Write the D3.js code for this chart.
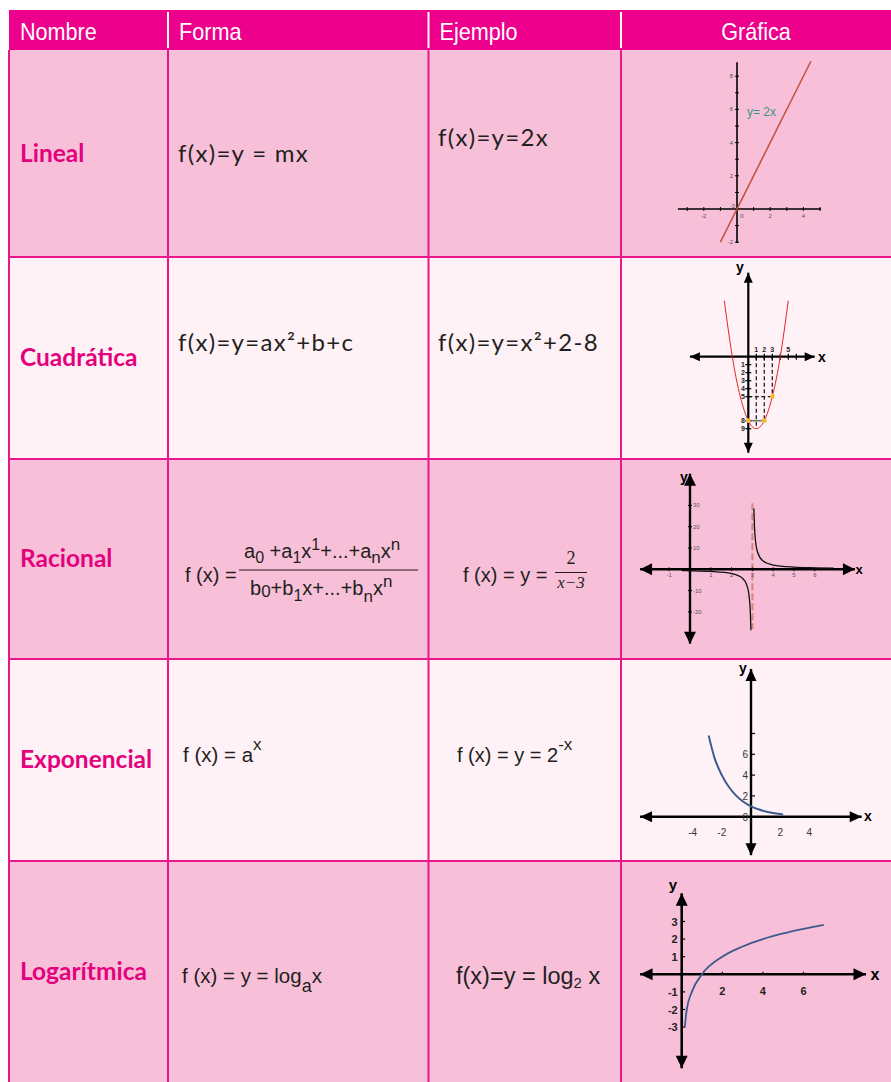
<!DOCTYPE html>
<html>
<head>
<meta charset="utf-8">
<script src="https://cdn.jsdelivr.net/npm/d3@7"></script>
<style>
  body { margin: 0; background: #fff; }
  svg { display: block; }
</style>
</head>
<body>
<div id="chart"></div>
<script>
// table text
var headers = ["Nombre", "Forma", "Ejemplo", "Gráfica"];
var rowNames = ["Lineal", "Cuadrática", "Racional", "Exponencial", "Logarítmica"];
var formaPlain = ["f(x)=y = mx", "f(x)=y=ax²+b+c"];
var ejemploPlain = ["f(x)=y=2x", "f(x)=y=x²+2-8"];

// rich formulas: [text, baseline shift, font size]
var racNum = [["a",0],["0",5,16],[" +a",0],["1",5,16],["x",0],["1",-8,16],["+...+a",0],["n",5,17],["x",0],["n",-8,17]];
var racDen = [["b",0],["0",2,17],["+b",0],["1",6,16],["x+...+b",0],["n",7,17],["x",0],["n",-8,17]];
var expForma = [["f (x) = a",0],["x",-12,17]];
var expEjemplo = [["f (x) = y = 2",0],["-x",-12,17]];
var logForma = [["f (x) = y = log",0],["a",9,18],["x",0]];
var logEjemplo = [["f(x)=y = log",0],["2",4,15],[" x",0]];

// Lineal: y = 2x
var linX = [-1, 4.45];
var linY = [-2, 8.9];
var linXTicks = [-3, -2, -1, 1, 2, 3, 4, 5];
var linXLabels = [-2, 2, 4];
var linYTicks = [-2, -1, 1, 2, 3, 4, 5, 6, 7, 8];
var linYLabels = [-2, 2, 4, 6, 8];

// Cuadrática
var cuaX = [-3, -2, -1, 0, 1, 2, 3, 4, 5];
var cuaY = [7, 0, -5, -8, -9, -8, -5, 0, 7];
var cuaXTicks = [1, 2, 3, 4, 5, 6];
var cuaXLabels = [1, 2, 3, 5];
var cuaYTicks = [-1, -2, -3, -4, -5, -8, -9];
var cuaDropX = [1, 2, 3];
var cuaDropY = [-9, -8, -5];
var cuaDots = [[0, -8], [2, -8], [3, -5]];

// Racional: 2/(x-3)
var racLeftX = [-0.4, 0, 1, 2, 2.5, 2.75, 2.85, 2.9, 2.93];
var racLeftY = [-0.59, -0.67, -1, -2, -4, -8, -13.3, -20, -28.6];
var racRightX = [3.07, 3.1, 3.15, 3.25, 3.5, 4, 5, 6, 6.9];
var racRightY = [28.6, 20, 13.3, 8, 4, 2, 1, 0.67, 0.51];
var racXTicks = [-1, 1, 2, 3, 4, 5, 6];
var racYTicks = [30, 20, 10, -10, -20];
var racAsym = [3, 31, -28];

// Exponencial: 2^-x
var expX = [-2.9, -2.5, -2, -1.5, -1, -0.5, 0, 0.5, 1, 1.5, 2, 2.2];
var expY = [7.8, 5.66, 4, 2.83, 2, 1.41, 1, 0.71, 0.5, 0.35, 0.25, 0.22];
var expXLabels = [-4, -2, 2, 4];
var expYTicks = [2, 4, 6, 8];
var expYLabels = [0, 2, 4, 6];

// Logarítmica: log2 x
var logX = [0.15, 0.25, 0.5, 1, 2, 3, 4, 5, 6, 7];
var logY = [-3, -2, -1, 0, 1, 1.58, 2, 2.32, 2.58, 2.81];
var logXLabels = [2, 4, 6];
var logYTicks = [3, 2, 1, -1, -2, -3];

// layout
var W = 891, H = 1082;
var colX = [9, 168, 428.5, 621, W];
var rowY = [50, 257, 459, 659, 861, H];
var pink = "#f8c0d8", light = "#fef2f6", magenta = "#ec008c", line = "#ec168c";
var ink = "#231f20";

var svg = d3.select("#chart")
  .append("svg")
    .attr("width", W)
    .attr("height", H);

// row backgrounds
svg.append("g")
  .selectAll("rect")
  .data(rowNames)
  .enter()
  .append("rect")
    .attr("x", colX[0])
    .attr("y", function(d, i) { return rowY[i]; })
    .attr("width", W - colX[0])
    .attr("height", function(d, i) { return rowY[i + 1] - rowY[i]; })
    .style("fill", function(d, i) { return i % 2 ? light : pink; });

// header band
svg.append("rect")
  .attr("x", colX[0]).attr("y", 10)
  .attr("width", W - colX[0]).attr("height", 40)
  .style("fill", magenta);

// grid
var grid = svg.append("g").style("stroke", line).style("stroke-width", 2);
grid.selectAll(".v")
  .data(colX.slice(0, 4))
  .enter().append("line")
    .attr("x1", function(d) { return d; }).attr("x2", function(d) { return d; })
    .attr("y1", 50).attr("y2", H);
grid.selectAll(".h")
  .data(rowY.slice(1, 5))
  .enter().append("line")
    .attr("x1", colX[0]).attr("x2", W)
    .attr("y1", function(d) { return d; }).attr("y2", function(d) { return d; });

svg.append("g").selectAll("line")
  .data(colX.slice(1, 4))
  .enter().append("line")
    .attr("x1", function(d) { return d; }).attr("x2", function(d) { return d; })
    .attr("y1", 12).attr("y2", 48)
    .style("stroke", "#fff").style("stroke-width", 2);

// header text (condensed by a horizontal squeeze)
var squeeze = 0.9;
svg.append("g").selectAll("g")
  .data(headers)
  .enter().append("g")
    .attr("transform", function(d, i) {
      var x = i == 3 ? (colX[3] + W) / 2 : colX[i] + 11;
      return "translate(" + x + ",40) scale(" + squeeze + ",1)";
    })
  .append("text")
    .attr("text-anchor", function(d, i) { return i == 3 ? "middle" : "start"; })
    .style("font-family", "'Liberation Sans', Arial, sans-serif")
    .style("font-size", "24px")
    .style("fill", "#fff")
    .text(function(d) { return d; });

// row names
svg.append("g").selectAll("text")
  .data(rowNames)
  .enter().append("text")
    .attr("x", 20)
    .attr("y", function(d, i) { return (rowY[i] + rowY[i + 1]) / 2 + 8; })
    .style("font-family", "Lato, 'Open Sans', sans-serif")
    .style("font-weight", "bold")
    .style("font-size", "24.5px")
    .style("fill", "#e5007d")
    .text(function(d) { return d; });

// plain formulas, rows 1 and 2
function plain(x, y, t) {
  svg.append("text")
    .attr("x", x).attr("y", y)
    .style("font-family", "Lato, 'Open Sans', sans-serif")
    .style("font-size", "24px")
    .style("letter-spacing", "1.3px")
    .style("fill", ink)
    .text(t);
}
plain(178, 162, formaPlain[0]);
plain(178, 351, formaPlain[1]);
plain(438, 146, ejemploPlain[0]);
plain(438, 351, ejemploPlain[1]);

// rich formulas
function rich(x, y, parts, base) {
  var t = svg.append("text")
    .attr("x", x).attr("y", y)
    .style("font-family", "'Liberation Sans', Arial, sans-serif")
    .style("font-size", base + "px")
    .style("fill", ink);
  var prev = 0;
  parts.forEach(function(p) {
    t.append("tspan")
      .attr("dy", p[1] - prev)
      .style("font-size", (p[2] || base) + "px")
      .text(p[0]);
    prev = p[1];
  });
  return t;
}

rich(185, 582, [["f (x) =", 0]], 20);
rich(244, 558, racNum, 20);
rich(250, 595, racDen, 20);
svg.append("line").attr("x1", 239).attr("x2", 418).attr("y1", 570).attr("y2", 570)
  .style("stroke", ink).style("stroke-width", 1.2);

rich(463, 582, [["f (x) = y =", 0]], 20);
svg.append("text").attr("x", 571).attr("y", 564).attr("text-anchor", "middle")
  .style("font-family", "'Liberation Serif', serif").style("font-size", "18px").style("fill", ink)
  .text("2");
svg.append("line").attr("x1", 555).attr("x2", 587).attr("y1", 572.5).attr("y2", 572.5)
  .style("stroke", ink).style("stroke-width", 1);
svg.append("text").attr("x", 571).attr("y", 588).attr("text-anchor", "middle")
  .style("font-family", "'Liberation Serif', serif").style("font-style", "italic")
  .style("font-size", "17px").style("fill", ink)
  .text("x−3");

rich(183, 762, expForma, 20.5);
rich(457, 762, expEjemplo, 20);
rich(182, 983, logForma, 20.5);
rich(456, 984, logEjemplo, 23.5);

// ---------- graphs ----------
function scales(ox, oy, ux, uy) {
  return {
    x: d3.scaleLinear().domain([0, 1]).range([ox, ox + ux]),
    y: d3.scaleLinear().domain([0, 1]).range([oy, oy - uy])
  };
}

function axes(g, s, xExt, yExt, w, arrow) {
  var x0 = s.x(0), y0 = s.y(0);
  g.append("line").attr("x1", s.x(xExt[0])).attr("x2", s.x(xExt[1]))
    .attr("y1", y0).attr("y2", y0).style("stroke", "#000").style("stroke-width", w);
  g.append("line").attr("x1", x0).attr("x2", x0)
    .attr("y1", s.y(yExt[0])).attr("y2", s.y(yExt[1])).style("stroke", "#000").style("stroke-width", w);
  if (!arrow) return;
  var L = arrow[0], hw = arrow[1];
  var xl = s.x(xExt[0]), xr = s.x(xExt[1]), yb = s.y(yExt[0]), yt = s.y(yExt[1]);
  var heads = [
    [[xl, y0], [xl + L, y0 - hw], [xl + L, y0 + hw]],
    [[xr, y0], [xr - L, y0 - hw], [xr - L, y0 + hw]],
    [[x0, yt], [x0 - hw, yt + L], [x0 + hw, yt + L]],
    [[x0, yb], [x0 - hw, yb - L], [x0 + hw, yb - L]]
  ];
  g.selectAll(".head").data(heads).enter().append("path")
    .attr("d", function(d) { return "M" + d.join("L") + "Z"; })
    .style("fill", "#000");
}

function xTicks(g, s, vals, up, down, w) {
  g.selectAll(null).data(vals).enter().append("line")
    .attr("x1", function(d) { return s.x(d); }).attr("x2", function(d) { return s.x(d); })
    .attr("y1", s.y(0) - up).attr("y2", s.y(0) + down)
    .style("stroke", "#000").style("stroke-width", w);
}
function yTicks(g, s, vals, left, right, w) {
  g.selectAll(null).data(vals).enter().append("line")
    .attr("y1", function(d) { return s.y(d); }).attr("y2", function(d) { return s.y(d); })
    .attr("x1", s.x(0) - left).attr("x2", s.x(0) + right)
    .style("stroke", "#000").style("stroke-width", w);
}
function labels(g, vals, fx, fy, anchor, size, weight, color, fmt) {
  return g.selectAll(null).data(vals).enter().append("text")
    .attr("x", fx).attr("y", fy)
    .attr("text-anchor", anchor)
    .style("font-family", "'Liberation Sans', Arial, sans-serif")
    .style("font-size", size + "px")
    .style("font-weight", weight)
    .style("fill", color)
    .text(fmt || function(d) { return d; });
}
function axisName(g, x, y, t, size) {
  g.append("text").attr("x", x).attr("y", y).attr("text-anchor", "middle")
    .style("font-family", "'Liberation Sans', Arial, sans-serif")
    .style("font-size", size + "px").style("font-weight", "bold").style("fill", "#000")
    .text(t);
}
function curve(g, xs, ys, s, color, w, c) {
  g.append("path")
    .datum(d3.zip(xs, ys))
    .attr("d", d3.line()
      .x(function(d) { return s.x(d[0]); })
      .y(function(d) { return s.y(d[1]); })
      .curve(c || d3.curveLinear))
    .style("fill", "none").style("stroke", color).style("stroke-width", w);
}

// Lineal
var g1 = svg.append("g");
var s1 = scales(737, 209, 16.6, 16.6);
axes(g1, s1, [-3.56, 5.06], [-2.05, 8.84], 1.6, null);
xTicks(g1, s1, linXTicks, 2, 2, 1);
yTicks(g1, s1, linYTicks, 2, 2, 1);
labels(g1, linXLabels, function(d) { return s1.x(d); }, 218, "middle", 6, "normal", "#555");
labels(g1, linYLabels, s1.x(0) - 4, function(d) { return s1.y(d) + 2; }, "end", 6, "normal", "#555");
labels(g1, [0], s1.x(0) + 5, 218, "middle", 6, "normal", "#555");
labels(g1, [0], s1.x(0) - 2, 208, "end", 6, "normal", "#555");
curve(g1, linX, linY, s1, "#c0523c", 1.5);
g1.append("text").attr("x", 747).attr("y", 116)
  .style("font-family", "'Liberation Sans', Arial, sans-serif").style("font-size", "12px")
  .style("fill", "#3d9584").text("y= 2x");

// Cuadrática
var g2 = svg.append("g");
var s2 = scales(748.3, 356.7, 8, 8);
cuaDropX.forEach(function(d, i) {
  g2.append("line").attr("x1", s2.x(d)).attr("x2", s2.x(d))
    .attr("y1", s2.y(0)).attr("y2", s2.y(cuaDropY[i]))
    .style("stroke", "#222").style("stroke-width", 1.3).style("stroke-dasharray", "4,2.5");
});
g2.append("line").attr("x1", s2.x(0)).attr("x2", s2.x(3))
  .attr("y1", s2.y(-5)).attr("y2", s2.y(-5))
  .style("stroke", "#222").style("stroke-width", 1.3).style("stroke-dasharray", "4,2.5");
g2.append("line").attr("x1", s2.x(0)).attr("x2", s2.x(2))
  .attr("y1", s2.y(-8)).attr("y2", s2.y(-8))
  .style("stroke", "#777").style("stroke-width", 1.6);
axes(g2, s2, [-7.3, 8.3], [-12, 10.5], 2.2, [10, 4.5]);
xTicks(g2, s2, cuaXTicks, 3, 3, 1.2);
yTicks(g2, s2, cuaYTicks, 3, 3, 1.2);
labels(g2, cuaXLabels, function(d) { return s2.x(d); }, 352, "middle", 7, "bold", "#222");
labels(g2, cuaYTicks, s2.x(0) - 3.5, function(d) { return s2.y(d) + 2.5; }, "end", 7, "bold", "#222",
  function(d) { return -d; });
curve(g2, cuaX, cuaY, s2, "#e8202a", 1, d3.curveNatural);
g2.selectAll(".dot").data(cuaDots).enter().append("circle")
  .attr("cx", function(d) { return s2.x(d[0]); })
  .attr("cy", function(d) { return s2.y(d[1]); })
  .attr("r", 2.4).style("fill", "#f6b92d");
axisName(g2, 740, 272, "y", 14);
axisName(g2, 822, 362, "x", 14);

// Racional
var g3 = svg.append("g");
var s3 = scales(690, 569.3, 20.8, 2.13);
g3.append("line").attr("x1", s3.x(racAsym[0])).attr("x2", s3.x(racAsym[0]))
  .attr("y1", s3.y(racAsym[1])).attr("y2", s3.y(racAsym[2]))
  .style("stroke", "#d98472").style("stroke-width", 2).style("stroke-dasharray", "7,3");
axes(g3, s3, [-2.4, 7.93], [-34.9, 44.9], 2.4, [12, 6]);
xTicks(g3, s3, racXTicks, 2, 2, 1);
yTicks(g3, s3, racYTicks, 2, 2, 1);
labels(g3, racXTicks, function(d) { return s3.x(d); }, 577, "middle", 6, "normal", "#555");
labels(g3, racYTicks, s3.x(0) + 3, function(d) { return s3.y(d) + 2; }, "start", 6, "normal", "#555");
curve(g3, racLeftX, racLeftY, s3, "#111", 1.3, d3.curveMonotoneX);
curve(g3, racRightX, racRightY, s3, "#111", 1.3, d3.curveMonotoneX);
axisName(g3, 684, 482, "y", 14);
axisName(g3, 859, 574, "x", 13);

// Exponencial
var g4 = svg.append("g");
var s4 = scales(751, 816.7, 14.6, 10.4);
axes(g4, s4, [-7.6, 7.58], [-3.7, 14.2], 2.4, [12, 5.5]);
yTicks(g4, s4, expYTicks, 0, 4, 1.2);
labels(g4, expXLabels, function(d) { return s4.x(d); }, 836, "middle", 10, "normal", "#333");
labels(g4, expYLabels, s4.x(0) - 3, function(d) { return s4.y(d) + 4; }, "end", 10, "normal", "#333");
curve(g4, expX, expY, s4, "#3e5a8c", 2, d3.curveMonotoneX);
axisName(g4, 743, 673, "y", 14);
axisName(g4, 868, 821, "x", 14);

// Logarítmica
var g5 = svg.append("g");
var s5 = scales(681.7, 974.3, 20.3, 17.6);
axes(g5, s5, [-2.05, 9.08], [-5.34, 4.6], 2.6, [12.5, 6]);
xTicks(g5, s5, logXLabels, 2.5, 0, 1.2);
yTicks(g5, s5, logYTicks, 0, 3.5, 1.2);
labels(g5, logXLabels, function(d) { return s5.x(d); }, 995, "middle", 11, "bold", "#222");
labels(g5, logYTicks, s5.x(0) - 4, function(d) { return s5.y(d) + 4; }, "end", 11, "bold", "#222");
curve(g5, logX, logY, s5, "#3e5a8c", 1.8, d3.curveMonotoneX);
axisName(g5, 673, 890, "y", 15);
axisName(g5, 875, 980, "x", 16);
</script>
</body>
</html>
